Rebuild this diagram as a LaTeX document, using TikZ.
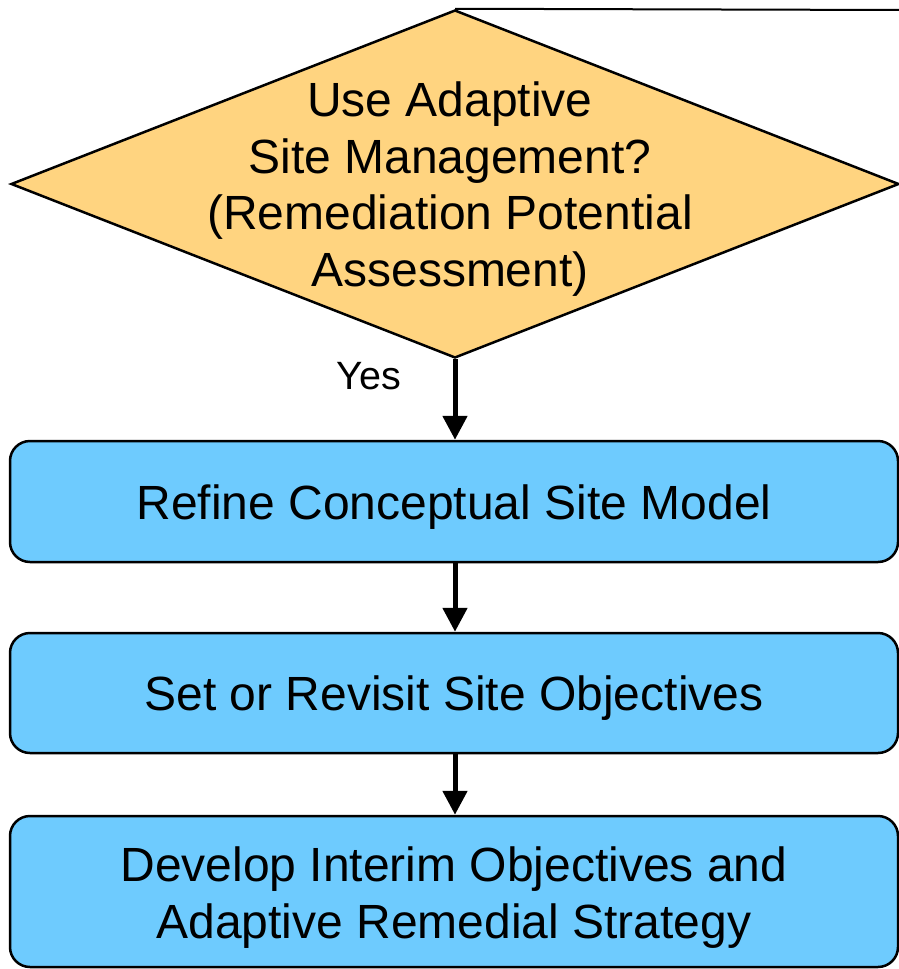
\documentclass[tikz,border=0pt]{standalone}
\usepackage{fontspec}
\setmainfont{Liberation Sans}
\usetikzlibrary{shapes.geometric,arrows.meta}
\definecolor{decisionfill}{HTML}{FFD480}
\definecolor{stepfill}{HTML}{6ECBFE}
\tikzset{
  decision/.style={diamond, draw=black, line width=2.5pt, fill=decisionfill,
    inner sep=0pt, minimum width=888pt, minimum height=348pt},
  stepbox/.style={rectangle, rounded corners=20pt, draw=black, line width=2.5pt,
    fill=stepfill, minimum width=888pt, align=center, inner sep=0pt,
    font=\fontsize{48}{57}\selectfont, text height=35pt, text depth=0pt},
  bigtext/.style={align=center, font=\fontsize{48}{56.5}\selectfont},
  flow/.style={line width=5pt, -{Triangle[length=24pt,width=24pt]}},
  thinline/.style={line width=2pt}
}
\begin{document}
\begin{tikzpicture}[x=1pt,y=-1pt]
  \useasboundingbox (0,0) rectangle (899,969);
  % decision
  \node[decision] (dec) at (455,184) {};
  \node[bigtext] (dectext) at (450,189) {Use Adaptive\\Site Management?\\(Remediation Potential\\Assessment)};
  \coordinate (exit) at (899,10);
  \draw[thinline] (dec.north) -- (exit);
  % process steps
  \node[stepbox, minimum height=121pt] (csm) at (454,501.5) {Refine Conceptual Site Model};
  \node[stepbox, minimum height=120pt] (obj) at (454,693) {Set or Revisit Site Objectives};
  \node[stepbox, minimum height=151pt, text height=93pt] (strat) at (454,891.5) {Develop Interim Objectives and\\Adaptive Remedial Strategy};
  % connectors
  \draw[flow] (dec.south) -- (csm.north -| dec.south);
  \node[font=\fontsize{39.5}{45}\selectfont] (yes) at (369,376) {Yes};
  \draw[flow] (csm.south -| dec.south) -- (obj.north -| dec.south);
  \draw[flow] (obj.south -| dec.south) -- (strat.north -| dec.south);
\end{tikzpicture}
\end{document}
